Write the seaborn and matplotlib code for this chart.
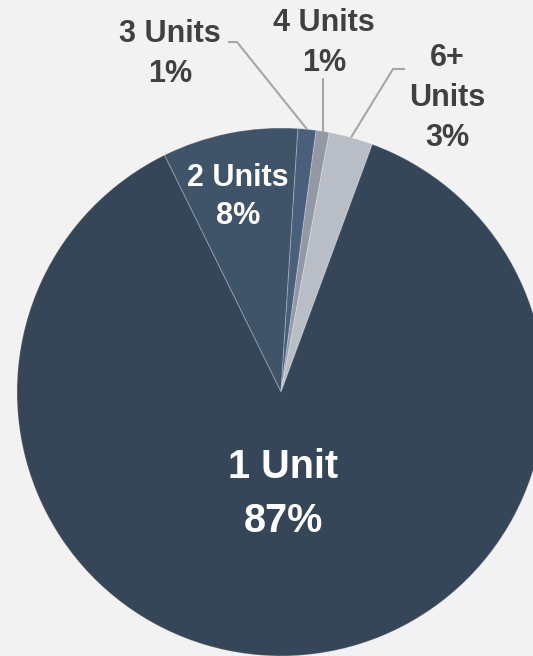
"""Unit mix pie chart: share of properties by number of units."""

import matplotlib.pyplot as plt
import numpy as np
import seaborn as sns

# ---- data (clockwise from the 2 Units wedge) ----
categories = ["2 Units", "3 Units", "4 Units", "6+ Units", "1 Unit"]
shares = [8.3, 1.1, 0.8, 2.7, 87.1]
label_text = ["2 Units", "3 Units", "4 Units", "6+\nUnits", "1 Unit"]

# ---- styling ----
BG = "#f2f2f2"
DARK_TEXT = "#404040"
LEADER = "#a6a6a6"
colors = ["#3f5369", "#4a5f7a", "#9298a4", "#b9bdc5", "#364659"]

# image geometry (pixels) -> data units, pie radius = 1
W, H = 533, 656
CX, CY, R = 281, 392, 264


def px(x, y):
    """Convert a pixel position of the canvas to data coordinates."""
    return (x - CX) / R, (CY - y) / R


sns.set_theme(style="white", rc={"figure.facecolor": BG, "axes.facecolor": BG})
plt.rcParams["font.family"] = ["Liberation Sans", "DejaVu Sans"]

fig = plt.figure(figsize=(W / 100, H / 100), dpi=100)
ax = fig.add_axes([0, 0, 1, 1])

wedges, _ = ax.pie(
    shares,
    colors=colors,
    startangle=116.2,
    counterclock=False,
    radius=1.0,
    wedgeprops={"edgecolor": (1, 1, 1, 0.22), "linewidth": 0.8},
)

ax.set_aspect("auto")
x0, y0 = px(0, H)
x1, y1 = px(W, 0)
ax.set_xlim(x0, x1)
ax.set_ylim(y0, y1)
ax.axis("off")


def edge_point(wedge, r=1.0):
    mid = np.deg2rad((wedge.theta1 + wedge.theta2) / 2)
    return r * np.cos(mid), r * np.sin(mid)


# ---- labels ----
# (text centre in px, font size, colour, linespacing)
layout = {
    "2 Units": ((238, 197), 22, "white", 1.36),
    "3 Units": ((170, 54), 22, DARK_TEXT, 1.45),
    "4 Units": ((324, 43), 22, DARK_TEXT, 1.45),
    "6+ Units": ((447, 98), 22, DARK_TEXT, 1.45),
    "1 Unit": ((283, 494), 28.5, "white", 1.51),
}

for cat, lab, share in zip(categories, label_text, shares):
    (lx, ly), size, col, ls = layout[cat]
    ax.text(
        *px(lx, ly),
        f"{lab}\n{share:.0f}%",
        ha="center",
        va="center",
        fontsize=size,
        fontweight="bold",
        color=col,
        linespacing=ls,
    )

# ---- leader lines for the thin wedges ----
w3, w4, w6 = wedges[1], wedges[2], wedges[3]

p3 = edge_point(w3)
pts = [px(228, 42), px(237, 42), p3]
ax.plot(*zip(*pts), color=LEADER, lw=1.5, solid_capstyle="butt")

p4 = edge_point(w4)
ax.plot([p4[0], p4[0]], [px(0, 79)[1], p4[1]], color=LEADER, lw=1.5)

p6 = edge_point(w6)
pts = [px(405, 69), px(393, 69), p6]
ax.plot(*zip(*pts), color=LEADER, lw=1.5, solid_capstyle="butt")

fig.savefig("out.png", dpi=100, facecolor=BG)
plt.close(fig)
